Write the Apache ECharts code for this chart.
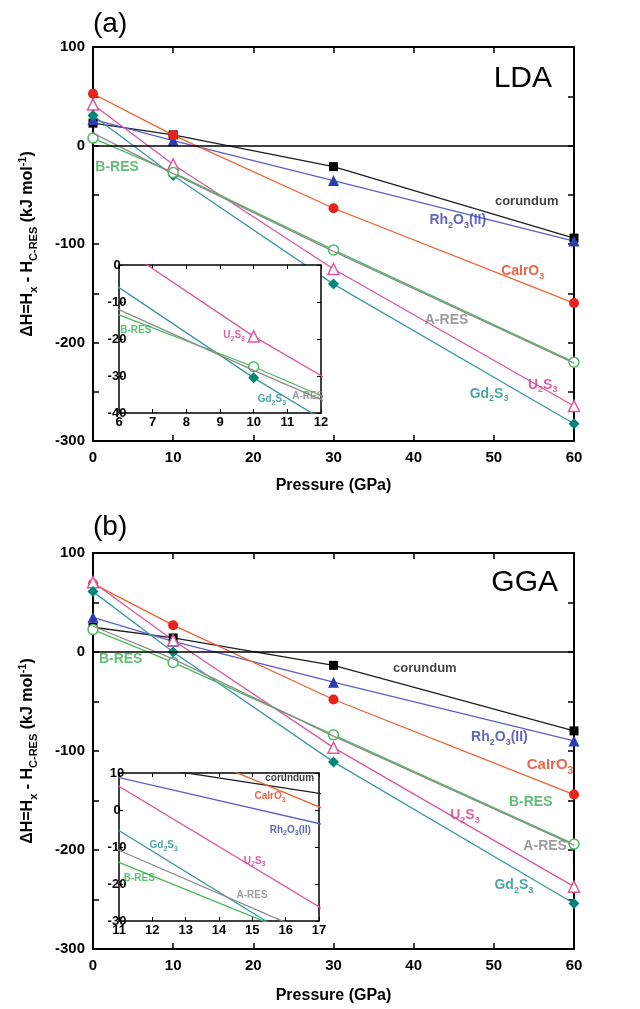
<!DOCTYPE html>
<html>
<head>
<meta charset="utf-8">
<script src="https://cdn.jsdelivr.net/npm/echarts@6/dist/echarts.min.js"></script>
<style>
  html, body { margin: 0; padding: 0; background: #fff; }
  #chart { width: 640px; height: 1009px; }
</style>
</head>
<body>
<div id="chart"></div>
<script>
// Pressures (GPa) at which the enthalpies were computed
const pressure = [0, 10, 30, 60];

// LDA: enthalpy relative to C-RES (kJ/mol)
const corundumLDA = [22.7, 10.8, -21.4, -94];
const rh2o3LDA    = [26.5, 5.0, -35.6, -97];
const cairo3LDA   = [52.5, 10.5, -63.7, -160];
const u2s3LDA     = [41.7, -19.3, -125.4, -264.5];
const gd2s3LDA    = [30.5, -30.5, -140.7, -282.5];
const bresLDA     = [7.5, -27.5, -106, -220];
const aresLDA     = [12.5, -28.5, -107.5, -221];

// GGA: enthalpy relative to C-RES (kJ/mol)
const corundumGGA = [25, 14.2, -13.5, -79.7];
const rh2o3GGA    = [35, 10.8, -30.5, -89.8];
const cairo3GGA   = [69, 27.1, -48, -144];
const u2s3GGA     = [70.5, 11.8, -96.6, -237];
const gd2s3GGA    = [61, 0, -111, -254];
const bresGGA     = [22.7, -10.5, -83.7, -194];
const aresGGA     = [26, -7, -85, -195];

// Axis ranges and tick labels
const mainPressureTicks = [0, 10, 20, 30, 40, 50, 60];
const mainEnthalpyTicks = [-300, -200, -100, 0, 100];
const insetLDAPressure = [6, 12];
const insetLDAEnthalpy = [-40, 0];
const insetGGAPressure = [11, 17];
const insetGGAEnthalpy = [-30, 10];

const FONT = '"Liberation Sans", Arial, Helvetica, sans-serif';

// Phase appearance
const phases = [
  { name: 'corundum',    lda: corundumLDA, gga: corundumGGA, line: '#1e1e1e', mark: '#000000', symbol: 'rect',     size: 9,  open: false },
  { name: 'Rh2O3(II)',   lda: rh2o3LDA,    gga: rh2o3GGA,    line: '#5a5ec8', mark: '#2b3db0', symbol: 'triangle', size: 11, open: false },
  { name: 'CaIrO3',      lda: cairo3LDA,   gga: cairo3GGA,   line: '#f0612f', mark: '#e8231c', symbol: 'circle',   size: 10, open: false },
  { name: 'U2S3',        lda: u2s3LDA,     gga: u2s3GGA,     line: '#e0569b', mark: '#e0569b', symbol: 'triangle', size: 11, open: true },
  { name: 'Gd2S3',       lda: gd2s3LDA,    gga: gd2s3GGA,    line: '#3b97a6', mark: '#008678', symbol: 'diamond',  size: 11, open: false },
  { name: 'B-RES',       lda: bresLDA,     gga: bresGGA,     line: '#4cba60', mark: '#4cba60', symbol: 'circle',   size: 10, open: true },
  { name: 'A-RES',       lda: aresLDA,     gga: aresGGA,     line: '#8c8c8c', mark: '#8c8c8c', symbol: 'none',     size: 0,  open: false }
];

// Curve labels, placed in data coordinates of each plot
const labelsLDA = [
  { text: 'corundum',    x: 54.1, y: -57,  color: '#111111', size: 13 },
  { text: 'Rh_2O_3(II)', x: 45.5, y: -76,  color: '#3c40a8', size: 14 },
  { text: 'CaIrO_3',     x: 53.6, y: -128, color: '#e8401c', size: 14 },
  { text: 'A-RES',       x: 44.1, y: -177, color: '#858585', size: 14 },
  { text: 'U_2S_3',      x: 56.1, y: -243, color: '#d63a8c', size: 14 },
  { text: 'Gd_2S_3',     x: 49.4, y: -252, color: '#1f8d8a', size: 14 },
  { text: 'B-RES',       x: 3.0,  y: -22,  color: '#3cae55', size: 14 }
];
const labelsLDAInset = [
  { text: 'B-RES',   x: 6.5,   y: -17.5, color: '#3cae55', size: 10 },
  { text: 'U_2S_3',  x: 9.42,  y: -19.1, color: '#d63a8c', size: 10 },
  { text: 'Gd_2S_3', x: 10.54, y: -36.4, color: '#1f8d8a', size: 10 },
  { text: 'A-RES',   x: 11.61, y: -35.5, color: '#858585', size: 10 }
];
const labelsGGA = [
  { text: 'B-RES',       x: 3.45, y: -7.7,   color: '#3cae55', size: 14 },
  { text: 'corundum',    x: 41.4, y: -16.8,  color: '#111111', size: 13 },
  { text: 'Rh_2O_3(II)', x: 50.7, y: -85.9,  color: '#3c40a8', size: 14 },
  { text: 'CaIrO_3',     x: 57.0, y: -114.4, color: '#e8401c', size: 15 },
  { text: 'B-RES',       x: 54.6, y: -151.5, color: '#3cae55', size: 14 },
  { text: 'U_2S_3',      x: 46.4, y: -165,   color: '#d63a8c', size: 14 },
  { text: 'A-RES',       x: 56.4, y: -196.3, color: '#858585', size: 14 },
  { text: 'Gd_2S_3',     x: 52.5, y: -235.7, color: '#1f8d8a', size: 14 }
];
const labelsGGAInset = [
  { text: 'corundum',    x: 16.12, y: 8.6,   color: '#111111', size: 10 },
  { text: 'CaIrO_3',     x: 15.53, y: 3.7,   color: '#e8401c', size: 10 },
  { text: 'Rh_2O_3(II)', x: 16.14, y: -5.4,  color: '#3c40a8', size: 10 },
  { text: 'Gd_2S_3',     x: 12.34, y: -9.6,  color: '#1f8d8a', size: 10 },
  { text: 'U_2S_3',      x: 15.07, y: -13.8, color: '#d63a8c', size: 10 },
  { text: 'B-RES',       x: 11.61, y: -18.5, color: '#3cae55', size: 10 },
  { text: 'A-RES',       x: 14.99, y: -23,   color: '#858585', size: 10 }
];

// Convert "Rh_2O_3" / "H_{C-RES}" / "mol^{-1}" into ECharts rich-text tokens
function richText(src) {
  let out = '', buf = '', i = 0;
  const flush = () => { if (buf) { out += '{m|' + buf + '}'; buf = ''; } };
  while (i < src.length) {
    const c = src[i];
    if (c === '_' || c === '^') {
      flush();
      let t;
      if (src[i + 1] === '{') {
        const j = src.indexOf('}', i + 2);
        t = src.slice(i + 2, j);
        i = j + 1;
      } else {
        t = src[i + 1];
        i += 2;
      }
      out += '{' + (c === '_' ? 's' : 'p') + '|' + t + '}';
    } else {
      buf += c;
      i++;
    }
  }
  flush();
  return out;
}

function richStyles(size, color, weight) {
  const sub = Math.round(size * 0.66);
  const pad = Math.round(size * 0.7);
  const base = { fontFamily: FONT, fontWeight: weight, color: color };
  return {
    m: Object.assign({ fontSize: size, lineHeight: size + 4 }, base),
    s: Object.assign({ fontSize: sub, lineHeight: sub, padding: [pad, 0, 0, 0] }, base),
    p: Object.assign({ fontSize: sub, lineHeight: sub, padding: [0, 0, pad, 0] }, base)
  };
}

// Curves for one plot
function phaseSeries(key, xi, yi, z, zeroLine) {
  return phases.map((ph, k) => {
    const s = {
      type: 'line',
      name: ph.name,
      xAxisIndex: xi,
      yAxisIndex: yi,
      z: z + (ph.name === 'A-RES' ? 1 : 0),
      data: pressure.map((p, i) => [p, ph[key][i]]),
      smooth: false,
      clip: true,
      symbol: ph.symbol,
      symbolSize: ph.size,
      showSymbol: ph.symbol !== 'none',
      lineStyle: { color: ph.line, width: 1.3 },
      itemStyle: ph.open
        ? { color: '#ffffff', borderColor: ph.mark, borderWidth: 1.5 }
        : { color: ph.mark, borderWidth: 0 },
      emphasis: { disabled: true },
      silent: true,
      animation: false
    };
    if (zeroLine && k === 0) {
      s.markLine = {
        silent: true,
        symbol: ['none', 'none'],
        label: { show: false },
        lineStyle: { color: '#000', width: 1.5, type: 'solid' },
        data: [{ yAxis: 0 }],
        animation: false
      };
    }
    return s;
  });
}

function labelSeries(list, xi, yi, z) {
  return {
    type: 'scatter',
    xAxisIndex: xi,
    yAxisIndex: yi,
    z: z,
    silent: true,
    clip: false,
    symbolSize: 1,
    itemStyle: { color: 'rgba(0,0,0,0)' },
    animation: false,
    data: list.map(l => ({
      value: [l.x, l.y],
      label: {
        show: true,
        position: 'inside',
        formatter: richText(l.text),
        rich: richStyles(l.size, l.color, 'bold')
      }
    }))
  };
}

// Axis helpers
function xAxisDef(grid, range, interval, pos, opts) {
  const main = opts.main;
  return {
    gridIndex: grid, type: 'value', min: range[0], max: range[1], interval: interval,
    position: pos, z: opts.z || 0,
    axisLine: { show: true, onZero: false, lineStyle: { color: '#000', width: main ? 2 : 1.5 } },
    axisTick: { show: true, inside: true, length: main ? 6 : 4, lineStyle: { color: '#000', width: main ? 1.5 : 1 } },
    axisLabel: {
      show: pos === 'bottom', color: '#000', fontFamily: FONT, fontWeight: 'bold',
      fontSize: main ? 15 : 13, margin: main ? 9 : 3
    },
    splitLine: { show: false },
    name: opts.name || '',
    nameLocation: 'middle',
    nameGap: opts.nameGap || 0,
    nameTextStyle: { color: '#000', fontFamily: FONT, fontWeight: 'bold', fontSize: 16 }
  };
}

function yAxisDef(grid, range, interval, pos, opts) {
  const main = opts.main;
  const def = {
    gridIndex: grid, type: 'value', min: range[0], max: range[1], interval: interval,
    position: pos, z: opts.z || 0,
    axisLine: { show: true, onZero: false, lineStyle: { color: '#000', width: main ? 2 : 1.5 } },
    axisTick: { show: true, inside: true, length: main ? 6 : 4, lineStyle: { color: '#000', width: main ? 1.5 : 1 } },
    minorTick: { show: !!main, splitNumber: 2, length: 6, lineStyle: { color: '#000', width: 1.5 } },
    axisLabel: main
      ? { show: pos === 'left', color: '#000', fontFamily: FONT, fontWeight: 'bold', fontSize: 15, margin: 8 }
      : { show: pos === 'left', color: '#000', fontFamily: FONT, fontWeight: 'bold', fontSize: 13, margin: 2, align: 'center' },
    splitLine: { show: false }
  };
  if (opts.name) {
    def.name = opts.name;
    def.nameLocation = 'middle';
    def.nameRotate = 90;
    def.nameGap = opts.nameGap;
    def.nameTextStyle = { rich: richStyles(16, '#000', 'bold') };
  }
  return def;
}

const yTitle = richText('ΔH=H_x - H_{C-RES} (kJ mol^{-1})');
const mainX = [mainPressureTicks[0], mainPressureTicks[mainPressureTicks.length - 1]];
const mainY = [mainEnthalpyTicks[0], mainEnthalpyTicks[mainEnthalpyTicks.length - 1]];

const option = {
  backgroundColor: '#fff',
  animation: false,
  grid: [
    { left: 93, right: 66, top: 47, bottom: 568 },
    { left: 119, right: 319, top: 265, bottom: 596, z: 10, show: true, backgroundColor: '#fff', borderWidth: 0 },
    { left: 93, right: 66, top: 553, bottom: 60 },
    { left: 119, right: 321, top: 773, bottom: 88, z: 10, show: true, backgroundColor: '#fff', borderWidth: 0 }
  ],
  xAxis: [
    xAxisDef(0, mainX, 10, 'bottom', { main: true, name: 'Pressure (GPa)', nameGap: 37 }),
    xAxisDef(0, mainX, 10, 'top', { main: true }),
    xAxisDef(1, insetLDAPressure, 1, 'bottom', { z: 11 }),
    xAxisDef(1, insetLDAPressure, 1, 'top', { z: 11 }),
    xAxisDef(2, mainX, 10, 'bottom', { main: true, name: 'Pressure (GPa)', nameGap: 39 }),
    xAxisDef(2, mainX, 10, 'top', { main: true }),
    xAxisDef(3, insetGGAPressure, 1, 'bottom', { z: 11 }),
    xAxisDef(3, insetGGAPressure, 1, 'top', { z: 11 })
  ],
  yAxis: [
    yAxisDef(0, mainY, 100, 'left', { main: true, name: yTitle, nameGap: 55 }),
    yAxisDef(0, mainY, 100, 'right', { main: true }),
    yAxisDef(1, insetLDAEnthalpy, 10, 'left', { z: 11 }),
    yAxisDef(1, insetLDAEnthalpy, 10, 'right', { z: 11 }),
    yAxisDef(2, mainY, 100, 'left', { main: true, name: yTitle, nameGap: 55 }),
    yAxisDef(2, mainY, 100, 'right', { main: true }),
    yAxisDef(3, insetGGAEnthalpy, 10, 'left', { z: 11 }),
    yAxisDef(3, insetGGAEnthalpy, 10, 'right', { z: 11 })
  ],
  graphic: [
    { type: 'text', left: 93, top: 10, style: { text: '(a)', font: '28px ' + FONT, fill: '#000' } },
    { type: 'text', right: 88, top: 64, style: { text: 'LDA', font: '30px ' + FONT, fill: '#000' } },
    { type: 'text', left: 93, top: 513, style: { text: '(b)', font: '28px ' + FONT, fill: '#000' } },
    { type: 'text', right: 82, top: 568, style: { text: 'GGA', font: '30px ' + FONT, fill: '#000' } }
  ],
  series: [].concat(
    phaseSeries('lda', 0, 0, 2, true),
    phaseSeries('lda', 2, 2, 12, false),
    phaseSeries('gga', 4, 4, 2, true),
    phaseSeries('gga', 6, 6, 12, true),
    [
      labelSeries(labelsLDA, 0, 0, 5),
      labelSeries(labelsLDAInset, 2, 2, 15),
      labelSeries(labelsGGA, 4, 4, 5),
      labelSeries(labelsGGAInset, 6, 6, 15)
    ]
  )
};

const chart = echarts.init(document.getElementById('chart'), null, { renderer: 'canvas' });
chart.setOption(option);
</script>
</body>
</html>
